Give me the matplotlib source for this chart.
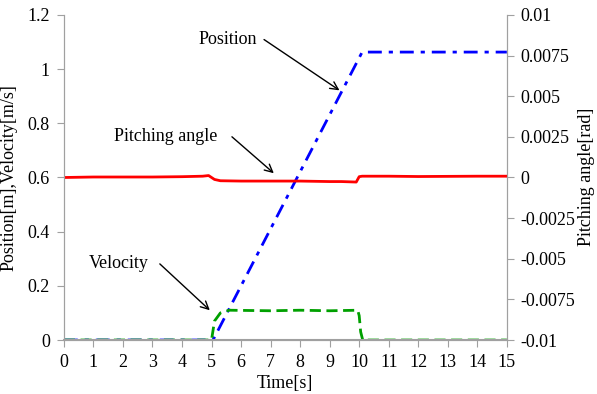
import matplotlib.pyplot as plt

plt.rcParams['font.family'] = ['Liberation Serif', 'DejaVu Serif']
plt.rcParams['font.size'] = 13

# data
pos_t = [0, 5.05, 10.1, 15]
pos_y = [0, 0, 1.063, 1.063]

vel_t = [0, 5.0, 5.1, 5.3, 5.6, 7.0, 8.0, 9.0, 9.95, 10.0, 10.05, 10.12, 15]
vel_y = [0, 0, 0.07, 0.10, 0.11, 0.108, 0.11, 0.108, 0.11, 0.09, 0.03, 0, 0]

pitch_t = [0, 1.0, 3.0, 4.0, 4.7, 4.9, 5.1, 5.3, 6.0, 7.0, 8.0, 9.0, 9.4, 9.9, 10.0, 10.1, 11.0, 12.0, 13.0, 14.0, 15.0]
pitch_y = [0.0, 0.00003, 0.00003, 0.00005, 0.00008, 0.00012, -0.00012, -0.0002, -0.00022, -0.00022,
           -0.00022, -0.00025, -0.00025, -0.00028, 0.00005, 0.00008, 0.00008, 0.00006, 0.00007, 0.00008, 0.00008]

fig = plt.figure(figsize=(5.97, 3.94), dpi=100)
ax = fig.add_axes([0.107, 0.137, 0.742, 0.825])
ax2 = ax.twinx()

ax.plot(pos_t, pos_y, color='#0000FF', linestyle=(0, (5, 2.5, 1.5, 2.5)), linewidth=2)
ax.plot(vel_t, vel_y, color='#00A000', linestyle=(0, (4, 2)), linewidth=2)
ax2.plot(pitch_t, pitch_y, color='#FF0000', linestyle='-', linewidth=2)

ax.set_xlim(0, 15)
ax.set_ylim(0, 1.2)
ax.set_xticks(range(0, 16))
ax.set_yticks([0, 0.2, 0.4, 0.6, 0.8, 1.0, 1.2])
ax.set_yticklabels(['0', '0.2', '0.4', '0.6', '0.8', '1', '1.2'])
ax2.set_ylim(-0.01, 0.01)
ax2.set_yticks([-0.01, -0.0075, -0.005, -0.0025, 0, 0.0025, 0.005, 0.0075, 0.01])
ax2.set_yticklabels(['-0.01', '-0.0075', '-0.005', '-0.0025', '0', '0.0025', '0.005', '0.0075', '0.01'])

for a in (ax, ax2):
    a.spines['top'].set_visible(False)
    for s in ('left', 'right', 'bottom'):
        a.spines[s].set_color('#A0A0A0')
    a.tick_params(color='#A0A0A0', length=5, direction='out', labelcolor='black', pad=5)
ax.spines['bottom'].set_linewidth(1.5)

ax.set_xlabel('Time[s]', labelpad=3)
ax.set_ylabel('Position[m],Velocity[m/s]', labelpad=7)
# right label placed by hand so it stays inside the figure
fig.text(0.982, 0.55, 'Pitching angle[rad]', rotation=90, ha='center', va='center')

arrow = dict(arrowstyle='->', color='black', lw=1, mutation_scale=14)
ax.text(5.55, 1.108, 'Position', ha='center', va='center')
ax.annotate('', xy=(9.41, 0.916), xytext=(6.7, 1.115), arrowprops=arrow)
ax.text(3.45, 0.75, 'Pitching angle', ha='center', va='center')
ax.annotate('', xy=(7.18, 0.609), xytext=(5.62, 0.757), arrowprops=arrow)
ax.text(1.86, 0.284, 'Velocity', ha='center', va='center')
ax.annotate('', xy=(5.01, 0.103), xytext=(3.18, 0.288), arrowprops=arrow)

fig.savefig('out.png', dpi=100)
